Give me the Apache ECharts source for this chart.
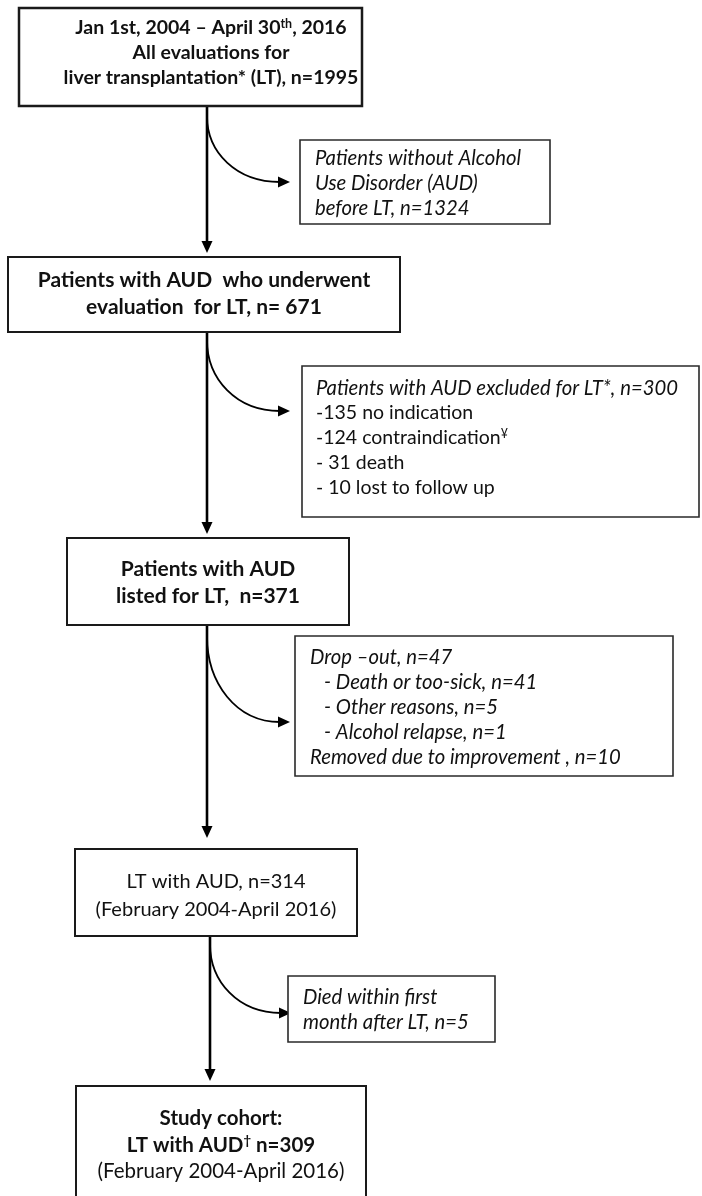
<!DOCTYPE html>
<html><head><meta charset="utf-8">
<script src="https://cdn.jsdelivr.net/npm/echarts@6/dist/echarts.min.js"></script>
<style>html,body{margin:0;padding:0;background:#fff}#c{width:702px;height:1196px}</style>
</head><body><div id="c"></div>
<script>
// ---- data ----
const stepCounts = [1995, 671, 371, 314, 309];
const exclusionCounts = [1324, 300, 47, 5];
const excludedBreakdown = [135, 124, 31, 10];
const dropoutBreakdown = [41, 5, 1];
const improvementRemoved = [10];

const mainTexts = [
  ['Jan 1st, 2004 – April 30{sup|th}, 2016', 'All evaluations for', 'liver transplantation* (LT), n=' + stepCounts[0]],
  ['Patients with AUD  who underwent', 'evaluation  for LT, n= ' + stepCounts[1]],
  ['Patients with AUD', 'listed for LT,  n=' + stepCounts[2]],
  ['LT with AUD, n=' + stepCounts[3], '(February 2004-April 2016)'],
  ['Study cohort:', 'LT with AUD{sup|†} n=' + stepCounts[4], '(February 2004-April 2016)']
];
const sideTexts = [
  ['Patients without Alcohol', 'Use Disorder (AUD)', 'before LT, n=' + exclusionCounts[0]],
  ['Patients with AUD excluded for LT*, n=' + exclusionCounts[1],
   '-' + excludedBreakdown[0] + ' no indication',
   '-' + excludedBreakdown[1] + ' contraindication{sup|¥}',
   '- ' + excludedBreakdown[2] + ' death',
   '- ' + excludedBreakdown[3] + ' lost to follow up'],
  ['Drop –out, n=' + exclusionCounts[2],
   '- Death or too-sick, n=' + dropoutBreakdown[0],
   '- Other reasons, n=' + dropoutBreakdown[1],
   '- Alcohol relapse, n=' + dropoutBreakdown[2],
   'Removed due to improvement , n=' + improvementRemoved[0]],
  ['Died within first', 'month after LT, n=' + exclusionCounts[3]]
];

// ---- layout (canvas units, mapped through hidden value axes) ----
const FONT = 'Lato, "Open Sans", sans-serif';
const mainLayout = [
  {rect:[19,8,362,106], cx:211, ys:[28,53,78], w:['bold','bold','bold'], s:19.5, lw:2.5},
  {rect:[8,257,400,332], cx:204, ys:[280,307], w:['bold','bold'], s:21, lw:2},
  {rect:[67,538,349,625], cx:208, ys:[569,596], w:['bold','bold'], s:21, lw:2},
  {rect:[75,849,357,936], cx:216, ys:[882,910], w:['normal','normal'], s:20, lw:2},
  {rect:[76,1086,366,1210], cx:221, ys:[1118,1145,1171], w:['bold','bold','normal'], s:20.5, lw:2}
];
const sideLayout = [
  {rect:[300,140,550,224], x:[315,315,315], ys:[158,183,208], it:[1,1,1]},
  {rect:[302,366,699,517], x:[316,316,316,316,316], ys:[388,413,438,463,488], it:[1,0,0,0,0]},
  {rect:[295,636,673,776], x:[310,324,324,324,310], ys:[657,682,707,732,757], it:[1,1,1,1,1]},
  {rect:[288,976,495,1042], x:[303,303], ys:[997,1022], it:[1,1]}
];
const ITALIC_SIZE = 20.3, REGULAR_SIDE_SIZE = 19.5;
// connectors: [type, x0, y0, x1, y1]; type 0 = vertical arrow, 1 = curved side arrow
const connectors = [
  [0, 207, 106, 207, 253], [0, 207, 332, 207, 534], [0, 207, 625, 207, 838], [0, 210, 936, 210, 1081],
  [1, 207, 116, 290, 182], [1, 207, 340, 290, 411], [1, 207, 636, 290, 722], [1, 210, 944, 291, 1013]
];

function textEl(str, x, y, align, size, weight, italic) {
  const st = {
    text: str, x: x, y: y, fill: '#111', fontSize: size, fontFamily: FONT,
    fontWeight: weight, fontStyle: italic ? 'italic' : 'normal',
    align: align, verticalAlign: 'middle',
    rich: { sup: { fontSize: size * 0.64, fontFamily: FONT, fontWeight: weight,
                   fontStyle: italic ? 'italic' : 'normal', fill: '#111', verticalAlign: 'top' } }
  };
  return {type: 'text', style: st};
}

const boxData = mainLayout.map(b => b.rect.concat([0])).concat(sideLayout.map(b => b.rect.concat([1])));

function renderBox(params, api) {
  const i = params.dataIndex;
  const p0 = api.coord([api.value(0), api.value(1)]);
  const p1 = api.coord([api.value(2), api.value(3)]);
  const children = [];
  if (api.value(4) === 0) {
    const L = mainLayout[i], T = mainTexts[i];
    children.push({type:'rect', shape:{x:p0[0], y:p0[1], width:p1[0]-p0[0], height:p1[1]-p0[1]},
      style:{fill:'#fff', stroke:'#1a1a1a', lineWidth:L.lw}});
    T.forEach((t, k) => {
      const c = api.coord([L.cx, L.ys[k]]);
      children.push(textEl(t, c[0], c[1], 'center', L.s, L.w[k], false));
    });
  } else {
    const j = i - mainLayout.length;
    const L = sideLayout[j], T = sideTexts[j];
    children.push({type:'rect', shape:{x:p0[0], y:p0[1], width:p1[0]-p0[0], height:p1[1]-p0[1]},
      style:{fill:'#fff', stroke:'#2a2a2a', lineWidth:1.6}});
    T.forEach((t, k) => {
      const c = api.coord([L.x[k], L.ys[k]]);
      const it = L.it[k] === 1;
      children.push(textEl(t, c[0], c[1], 'left', it ? ITALIC_SIZE : REGULAR_SIDE_SIZE, 'normal', it));
    });
  }
  return {type:'group', children: children};
}

function renderConnector(params, api) {
  const type = api.value(0);
  const a = api.coord([api.value(1), api.value(2)]);
  const b = api.coord([api.value(3), api.value(4)]);
  const col = '#000';
  if (type === 0) {
    return {type:'group', children:[
      {type:'line', shape:{x1:a[0], y1:a[1], x2:b[0], y2:b[1]-9}, style:{stroke:col, lineWidth:2.6}},
      {type:'polygon', shape:{points:[[b[0]-5.5, b[1]-12],[b[0]+5.5, b[1]-12],[b[0], b[1]]]}, style:{fill:col}}
    ]};
  }
  const ex = b[0] - 10, ey = b[1];
  return {type:'group', children:[
    {type:'bezierCurve', shape:{x1:a[0], y1:a[1], x2:ex, y2:ey,
      cpx1:a[0], cpy1:a[1] + 0.55*(ey - a[1]), cpx2:a[0] + 0.4*(ex - a[0]), cpy2:ey},
      style:{stroke:col, lineWidth:1.8, fill:null}},
    {type:'polygon', shape:{points:[[b[0]-12, b[1]-5.5],[b[0]-12, b[1]+5.5],[b[0], b[1]]]}, style:{fill:col}}
  ]};
}

const chart = echarts.init(document.getElementById('c'), null, {renderer:'canvas', width:702, height:1196});
chart.setOption({
  animation: false,
  grid: {left:0, right:0, top:0, bottom:0},
  xAxis: {type:'value', min:0, max:702, show:false},
  yAxis: {type:'value', min:0, max:1196, inverse:true, show:false},
  series: [
    {type:'custom', coordinateSystem:'cartesian2d', data: connectors, renderItem: renderConnector, clip:false, silent:true},
    {type:'custom', coordinateSystem:'cartesian2d', data: boxData, renderItem: renderBox, clip:false, silent:true}
  ]
});
</script>
</body></html>
